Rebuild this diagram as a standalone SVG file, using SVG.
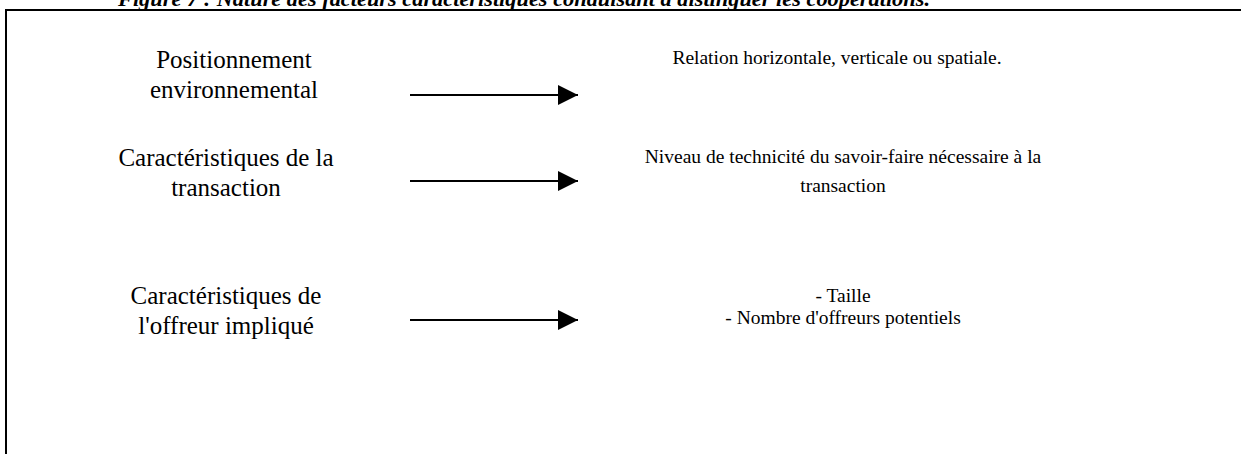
<svg xmlns="http://www.w3.org/2000/svg" width="1241" height="454" viewBox="0 0 1241 454">
<style>
.t{font-family:"Liberation Serif","Times New Roman",serif;fill:#000;text-anchor:middle}
.l{font-size:25px}
.r{font-size:19.5px}
.title{font-family:"Liberation Serif","Times New Roman",serif;font-size:22px;font-weight:bold;font-style:italic;fill:#000}
.frame{fill:none;stroke:#000;stroke-width:2}
.conn line{stroke:#000;stroke-width:2.2}
</style>
<defs>
<marker id="ah" markerWidth="20" markerHeight="20" refX="20" refY="10" orient="auto" markerUnits="userSpaceOnUse">
<polygon points="0,0 20,10 0,20" fill="#000"/>
</marker>
</defs>
<rect width="1241" height="454" fill="#fff"/>
<text class="title" x="118" y="6" textLength="812" lengthAdjust="spacingAndGlyphs">Figure 7 : Nature des facteurs caractéristiques conduisant à distinguer les coopérations.</text>
<path class="frame" d="M6,454 V10 H1241"/>
<g id="n1">
<text class="t l" x="234" y="68">Positionnement</text>
<text class="t l" x="234" y="98">environnemental</text>
</g>
<g id="n2">
<text class="t l" x="226" y="166">Caractéristiques de la</text>
<text class="t l" x="226" y="196">transaction</text>
</g>
<g id="n3">
<text class="t l" x="226" y="304">Caractéristiques de</text>
<text class="t l" x="226" y="334">l'offreur impliqué</text>
</g>
<g id="n4">
<text class="t r" x="837" y="64">Relation horizontale, verticale ou spatiale.</text>
</g>
<g id="n5">
<text class="t r" x="843" y="163">Niveau de technicité du savoir-faire nécessaire à la</text>
<text class="t r" x="843" y="192">transaction</text>
</g>
<g id="n6">
<text class="t r" x="843" y="302">- Taille</text>
<text class="t r" x="843" y="324">- Nombre d'offreurs potentiels</text>
</g>
<g id="connectors" class="conn">
<line x1="410" y1="95" x2="578" y2="95" marker-end="url(#ah)"/>
<line x1="410" y1="181" x2="578" y2="181" marker-end="url(#ah)"/>
<line x1="410" y1="320" x2="578" y2="320" marker-end="url(#ah)"/>
</g>
</svg>
